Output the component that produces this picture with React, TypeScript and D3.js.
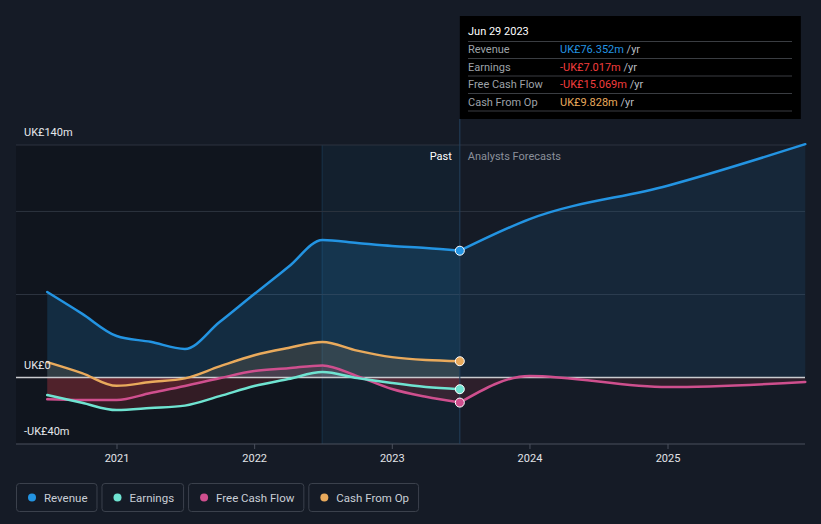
import * as d3 from 'd3';

const PAST_DATES = [
  '2020-06-30', '2020-09-30', '2020-12-31', '2021-03-31', '2021-06-30', '2021-09-30', '2021-12-31',
  '2022-03-31', '2022-06-30', '2022-09-30', '2022-12-31', '2023-03-31', '2023-06-29',
];
const FC_DATES = ['2023-06-29', '2023-12-31', '2024-12-31', '2025-12-31'];

const REVENUE = [51.5, 38.5, 25, 21.5, 17.2, 33.4, 50.3, 66.5, 82.8, 81, 79.2, 78, 76.352];
const EARNINGS = [-10.5, -15.2, -19.6, -18.4, -16.9, -11.2, -5.1, -0.9, 3.3, -0.3, -3.3, -5.7, -7.017];
const FCF = [-13, -13.5, -13.5, -9.3, -5.1, -0.4, 3.9, 5.6, 7.3, 0.9, -6.9, -11.6, -15.069];
const CFO = [9.3, 2.7, -5, -2.7, -0.5, 6.7, 13.4, 17.8, 21.4, 16.2, 12.3, 10.5, 9.828];

const REVENUE_FC = [76.352, 95.4, 115.5, 140.5];
const FCF_FC = [-15.069, 1.0, -5.7, -2.7];

const Y_GRID = [140, 100, 50];
const Y_LABELS = [140, 0, -40];
const X_TICKS = ['2021-01-01', '2022-01-01', '2023-01-01', '2024-01-01', '2025-01-01'];

const C = { rev: '#2394e2', earn: '#6fe3d1', fcf: '#cf4f8e', cfo: '#e9aa5c', neg: '#e0424f' };

const W = 821, H = 524;
const L = 16, R = 805, TOP = 145, BOT = 444;
const FONT = 'Roboto, "Open Sans", sans-serif';

const parse = (s: string) => new Date(s + 'T00:00:00Z');
const x = d3.scaleUtc().domain([parse('2021-01-01'), parse('2025-01-01')]).range([117, 668]);
const y = d3.scaleLinear().domain([-40, 140]).range([BOT, TOP]);

type P = { d: Date; v: number };
const pts = (dates: string[], vals: number[]): P[] => vals.map((v, i) => ({ d: parse(dates[i]), v }));

const line = d3.line<P>().x(p => x(p.d)).y(p => y(p.v)).curve(d3.curveMonotoneX);
const area = d3.area<P>().x(p => x(p.d)).y0(y(0)).y1(p => y(p.v)).curve(d3.curveMonotoneX);

const series = [
  { key: 'rev', color: C.rev, past: pts(PAST_DATES, REVENUE), fc: pts(FC_DATES, REVENUE_FC) },
  { key: 'cfo', color: C.cfo, past: pts(PAST_DATES, CFO), fc: null },
  { key: 'earn', color: C.earn, past: pts(PAST_DATES, EARNINGS), fc: null },
  { key: 'fcf', color: C.fcf, past: pts(PAST_DATES, FCF), fc: pts(FC_DATES, FCF_FC) },
];

const LEGEND = [
  { name: 'Revenue', color: C.rev },
  { name: 'Earnings', color: C.earn },
  { name: 'Free Cash Flow', color: C.fcf },
  { name: 'Cash From Op', color: C.cfo },
];

const TIP = [
  { label: 'Revenue', value: 'UK£76.352m', color: C.rev },
  { label: 'Earnings', value: '-UK£7.017m', color: '#f23d3d' },
  { label: 'Free Cash Flow', value: '-UK£15.069m', color: '#f23d3d' },
  { label: 'Cash From Op', value: 'UK£9.828m', color: C.cfo },
];

const fmtY = (v: number) => v === 0 ? 'UK£0' : (v < 0 ? '-' : '') + 'UK£' + Math.abs(v) + 'm';

// text width for legend boxes
const measure = (s: string, size: number) => {
  const ctx = document.createElement('canvas').getContext('2d');
  if (!ctx) return s.length * size * 0.55;
  ctx.font = `${size}px ${FONT}`;
  return ctx.measureText(s).width;
};

export default function App() {
  const now = x(parse('2023-06-29'));
  const yearAgo = x(parse('2022-06-29'));
  const z = y(0);

  let lx = L;
  const legend = LEGEND.map(l => {
    const w = 28 + measure(l.name, 11.5) + 9;
    const item = { ...l, x: lx, w };
    lx += w + 5;
    return item;
  });

  return (
    <svg width={W} height={H} style={{ position: 'absolute', left: 0, top: 0, background: '#151b26', fontFamily: FONT }}>
      <defs>
        <clipPath id="pos"><rect x={0} y={0} width={W} height={z} /></clipPath>
        <clipPath id="neg"><rect x={0} y={z} width={W} height={H - z} /></clipPath>
      </defs>
      <rect width={W} height={H} fill="#151b26" />

      {/* past shading and last-year band */}
      <rect x={L} y={TOP} width={yearAgo - L} height={BOT - TOP} fill="#0d1117" opacity={0.55} />
      <rect x={yearAgo} y={TOP} width={now - yearAgo} height={BOT - TOP} fill="#13202e" />
      <line x1={yearAgo} x2={yearAgo} y1={TOP} y2={BOT} stroke="#17324b" />

      {/* grid */}
      {Y_GRID.map(t => (
        <line key={t} x1={L} x2={R} y1={y(t)} y2={y(t)} stroke="#2c333f" />
      ))}

      {/* areas */}
      {series.map(s => (
        <g key={'a' + s.key}>
          <path d={area(s.past) ?? ''} fill={s.color} opacity={s.key === 'rev' ? 0.18 : 0.14} clipPath="url(#pos)" />
          <path d={area(s.past) ?? ''} fill={C.neg} opacity={0.17} clipPath="url(#neg)" />
          {s.fc && <path d={area(s.fc) ?? ''} fill={s.color} opacity={0.1} clipPath="url(#pos)" />}
          {s.fc && <path d={area(s.fc) ?? ''} fill={C.neg} opacity={0.12} clipPath="url(#neg)" />}
        </g>
      ))}

      {/* zero line and bottom axis */}
      <line x1={L} x2={R} y1={z} y2={z} stroke="#c9cbcf" strokeWidth={1.5} />
      <line x1={L} x2={R} y1={BOT} y2={BOT} stroke="#4a505c" strokeWidth={1} />
      {X_TICKS.map(t => (
        <g key={t}>
          <line x1={x(parse(t))} x2={x(parse(t))} y1={BOT} y2={BOT + 5} stroke="#4a505c" />
          <text x={x(parse(t))} y={462} textAnchor="middle" fill="#e2e4e8" fontSize={11}>{t.slice(0, 4)}</text>
        </g>
      ))}

      {/* lines */}
      {[...series].reverse().map(s => (
        <g key={'l' + s.key}>
          <path d={line(s.past) ?? ''} fill="none" stroke={s.color} strokeWidth={2.5} strokeLinecap="round" />
          {s.fc && <path d={line(s.fc) ?? ''} fill="none" stroke={s.color} strokeWidth={2.5} strokeLinecap="round" />}
        </g>
      ))}

      {/* now line */}
      <line x1={now} x2={now} y1={119} y2={BOT} stroke="#24405c" strokeWidth={1} />

      {series.map(s => (
        <circle key={'c' + s.key} cx={now} cy={y(s.past[s.past.length - 1].v)} r={4.5} fill={s.color} stroke="#ffffff" strokeWidth={1} />
      ))}

      {/* labels */}
      <text x={now - 8} y={160} textAnchor="end" fill="#ffffff" fontSize={11}>Past</text>
      <text x={now + 8} y={160} fill="#8b909a" fontSize={11}>Analysts Forecasts</text>
      {Y_LABELS.map(t => (
        <text key={t} x={24} y={y(t) - 9} fill="#e6e8eb" fontSize={11}>{fmtY(t)}</text>
      ))}

      {/* tooltip */}
      <rect x={now} y={16} width={341} height={103} fill="#000000" />
      <text x={468} y={35} fill="#ffffff" fontSize={11}>Jun 29 2023</text>
      <line x1={468} x2={792} y1={41.5} y2={41.5} stroke="#3a3d42" />
      {TIP.map((r, i) => (
        <g key={r.label}>
          <text x={468} y={53 + i * 17.5} fill="#9ea2a8" fontSize={11}>{r.label}</text>
          <text x={560} y={53 + i * 17.5} fontSize={11}>
            <tspan fill={r.color}>{r.value}</tspan>
            <tspan fill="#b8bcc2"> /yr</tspan>
          </text>
          <line x1={468} x2={792} y1={58.5 + i * 17.5} y2={58.5 + i * 17.5} stroke="#3a3d42" />
        </g>
      ))}

      {/* legend */}
      {legend.map(l => (
        <g key={l.name}>
          <rect x={l.x + 0.5} y={483.5} width={l.w} height={28} rx={3} fill="none" stroke="#3b414c" />
          <circle cx={l.x + 16} cy={497.5} r={4} fill={l.color} />
          <text x={l.x + 28} y={501.5} fill="#c9ced6" fontSize={11.5}>{l.name}</text>
        </g>
      ))}
    </svg>
  );
}
